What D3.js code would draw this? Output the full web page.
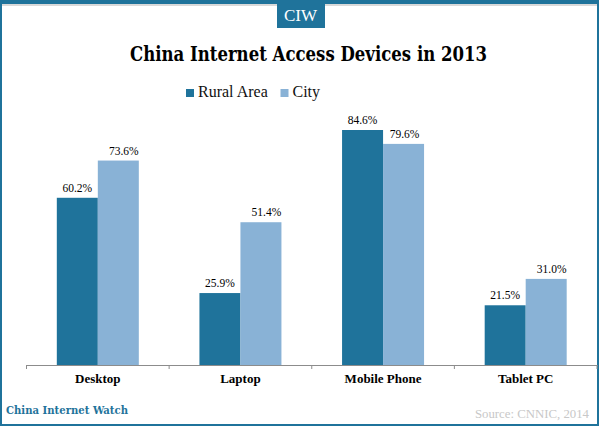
<!DOCTYPE html>
<html lang="en">
<head>
<meta charset="UTF-8">
<title>China Internet Access Devices in 2013</title>
<script src="https://d3js.org/d3.v7.min.js"></script>
<style>
    html, body { margin: 0; padding: 0; background: #fff; }
    svg { display: block; }
    text { font-family: "Liberation Serif", serif; }
</style>
</head>
<body>
<svg id="chart" width="600" height="426"></svg>
<script>
var categories = ["Desktop", "Laptop", "Mobile Phone", "Tablet PC"];
var seriesNames = ["Rural Area", "City"];
var ruralValues = [60.2, 25.9, 84.6, 21.5];
var cityValues = [73.6, 51.4, 79.6, 31.0];

var blue = "#1f739b", lightBlue = "#89b2d6";
var georgia = "'DejaVu Serif', serif";
var colors = d3.scaleOrdinal().domain(seriesNames).range([blue, lightBlue]);

var svg = d3.select("#chart");

// frame
svg.append("rect").attr("x", 0).attr("y", 0).attr("width", 599).attr("height", 426).attr("fill", blue);
svg.append("rect").attr("x", 2).attr("y", 4).attr("width", 595).attr("height", 420).attr("fill", "#fff");
svg.append("rect").attr("x", 2).attr("y", 4).attr("width", 595).attr("height", 2).attr("fill", "#d9d9d9");

// CIW tab
svg.append("rect").attr("x", 277).attr("y", 2).attr("width", 48).attr("height", 26).attr("fill", blue);
svg.append("text").attr("x", 300.5).attr("y", 21).attr("text-anchor", "middle")
    .attr("font-size", 17).attr("fill", "#fff").text("CIW");

svg.append("text").attr("x", 308.5).attr("y", 61).attr("text-anchor", "middle")
    .style("font-family", georgia)
    .attr("font-size", 20.5).attr("font-weight", "bold").attr("fill", "#000")
    .attr("textLength", 357).attr("lengthAdjust", "spacingAndGlyphs")
    .text("China Internet Access Devices in 2013");

// scales
var x = d3.scaleBand().domain(categories).range([26.5, 597]);
var series = d3.scaleBand().domain(seriesNames).range([0, 82]);
var y = d3.scaleLinear().domain([0, 84.6]).range([365, 130]);

var rows = categories.map(function(c, i) {
    return {category: c, values: [
        {name: seriesNames[0], value: ruralValues[i], shift: 0},
        // the city labels sit a little right of their bars, except over Mobile Phone
        {name: seriesNames[1], value: cityValues[i], shift: i === 2 ? 1 : 5.5}
    ]};
});

var groups = svg.selectAll("g.device").data(rows).enter().append("g")
    .attr("class", "device")
    .attr("transform", function(d) { return "translate(" + (x(d.category) + (x.bandwidth() - 82) / 2) + ",0)"; });

groups.selectAll("rect").data(function(d) { return d.values; }).enter().append("rect")
    .attr("x", function(d) { return series(d.name); })
    .attr("y", function(d) { return y(d.value); })
    .attr("width", series.bandwidth())
    .attr("height", function(d) { return y(0) - y(d.value); })
    .attr("fill", function(d) { return colors(d.name); });

groups.selectAll("text").data(function(d) { return d.values; }).enter().append("text")
    .attr("x", function(d) { return series(d.name) + series.bandwidth() / 2 + d.shift; })
    .attr("y", function(d) { return y(d.value) - 6; })
    .attr("text-anchor", "middle")
    .attr("font-size", 11.5)
    .attr("fill", "#000")
    .text(function(d) { return d.value.toFixed(1) + "%"; });

// axis
var axis = svg.append("g").attr("transform", "translate(0,365)")
    .call(d3.axisBottom(x).tickSize(0).tickPadding(9));
axis.select(".domain").attr("stroke", "#8c8c8c");
axis.selectAll("text").style("font-family", "'Liberation Serif', serif").attr("font-size", 13)
    .attr("font-weight", "bold").attr("fill", "#000");
axis.selectAll("line.sep").data(x.domain().concat(["end"])).enter().append("line")
    .attr("class", "sep")
    .attr("x1", function(d) { return d === "end" ? x.range()[1] : x(d); })
    .attr("x2", function(d) { return d === "end" ? x.range()[1] : x(d); })
    .attr("y1", 0).attr("y2", 4)
    .attr("stroke", "#8c8c8c");

// legend
var legendX = [186, 280.5];
var legend = svg.selectAll("g.legend").data(seriesNames).enter().append("g")
    .attr("class", "legend")
    .attr("transform", function(d, i) { return "translate(" + legendX[i] + ",89)"; });
legend.append("rect").attr("width", 8).attr("height", 8).attr("fill", function(d) { return colors(d); });
legend.append("text").attr("x", 12).attr("y", 8).attr("font-size", 16).attr("fill", "#111").text(function(d) { return d; });

// footer
svg.append("text").attr("x", 6).attr("y", 414).style("font-family", georgia)
    .attr("font-size", 11).attr("font-weight", "bold")
    .attr("fill", blue).attr("textLength", 122).attr("lengthAdjust", "spacingAndGlyphs")
    .text("China Internet Watch");
svg.append("text").attr("x", 589).attr("y", 418).attr("text-anchor", "end").attr("font-size", 12.8)
    .attr("fill", "#c8c8c8").text("Source: CNNIC, 2014");
</script>
</body>
</html>
